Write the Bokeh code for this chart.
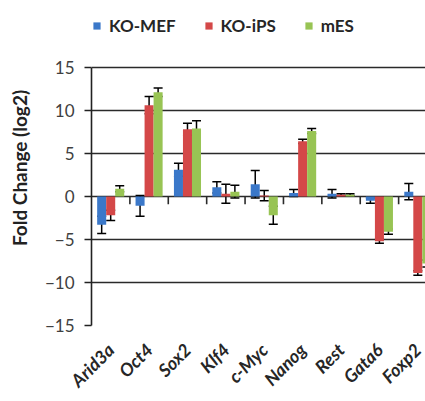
import math
from bokeh.plotting import figure
from bokeh.models import (ColumnDataSource, Range1d, FixedTicker, Legend, LegendItem,
                          Whisker, TeeHead)
from bokeh.embed import file_html
from bokeh.resources import INLINE

# Relative expression, log2 fold change, with error bars
genes = ["Arid3a", "Oct4", "Sox2", "Klf4", "c-Myc", "Nanog", "Rest", "Gata6", "Foxp2"]
series = ["KO-MEF", "KO-iPS", "mES"]
ko_mef = [-3.3, -1.1, 3.1, 1.05, 1.4, 0.4, 0.3, -0.5, 0.55]
ko_mef_err = [1.0, 1.2, 0.75, 0.65, 1.6, 0.4, 0.5, 0.3, 0.95]
ko_ips = [-2.2, 10.6, 7.8, 0.3, 0.1, 6.4, 0.2, -5.2, -8.9]
ko_ips_err = [0.6, 1.0, 0.7, 1.1, 0.6, 0.25, 0.1, 0.25, 0.25]
mes = [0.9, 12.1, 7.9, 0.55, -2.2, 7.6, 0.2, -4.1, -7.8]
mes_err = [0.35, 0.5, 0.9, 0.75, 1.05, 0.3, 0.1, 0.3, 0.4]
y_ticks = [-15, -10, -5, 0, 5, 10, 15]

colors = ["#3B78C9", "#D44848", "#98C454"]
FONT = "Lato"
BAR_W = 0.235

# the frame reaches up past 15 so the legend can sit above the chart box
p = figure(width=425, height=401, output_backend="svg", toolbar_location=None,
           x_range=Range1d(0, 8.70), y_range=Range1d(-15, 21.6),
           min_border_left=91, min_border_right=0, min_border_top=10,
           min_border_bottom=75)
p.outline_line_color = None
p.background_fill_color = "white"
p.border_fill_color = "white"

# horizontal gridlines double as the top and bottom frame lines
p.xgrid.visible = False
p.ygrid.ticker = FixedTicker(ticks=y_ticks)
p.ygrid.grid_line_color = "#2a2a2a"
p.ygrid.grid_line_width = 1.6

# category tick marks hanging from the zero line
bounds = list(range(1, len(genes) + 1))
p.segment(x0=bounds, y0=[0] * len(bounds), x1=bounds, y1=[-0.9] * len(bounds),
          line_color="#2a2a2a", line_width=1.6)

items = []
for k, (name, vals, errs, col) in enumerate(zip(series, [ko_mef, ko_ips, mes],
                                                [ko_mef_err, ko_ips_err, mes_err], colors)):
    xs = [i + 0.5 + (k - 1) * BAR_W for i in range(len(genes))]
    src = ColumnDataSource(dict(
        x=xs, top=vals,
        upper=[v + e for v, e in zip(vals, errs)],
        lower=[v - e for v, e in zip(vals, errs)]))
    r = p.vbar(x="x", top="top", bottom=0, width=BAR_W, source=src,
               fill_color=col, line_color=None)
    items.append(LegendItem(label=name, renderers=[r]))
    w = Whisker(source=src, base="x", upper="upper", lower="lower",
                line_color="black", line_width=1.5,
                upper_head=TeeHead(size=9, line_color="black", line_width=1.5),
                lower_head=TeeHead(size=9, line_color="black", line_width=1.5))
    p.add_layout(w)

legend = Legend(items=items, orientation="horizontal", location=(1, 289),
                label_text_font=FONT, label_text_font_style="bold",
                label_text_font_size="17px", label_text_color="#262626",
                glyph_width=9, glyph_height=9, label_standoff=8, spacing=28,
                padding=0, margin=0, border_line_color=None,
                background_fill_alpha=0)
p.add_layout(legend, "center")

# y axis
ya = p.yaxis[0]
ya.ticker = FixedTicker(ticks=y_ticks)
ya.bounds = (-15, 15)
ya.axis_line_color = "#222222"
ya.axis_line_width = 1.6
ya.major_tick_line_color = "#222222"
ya.major_tick_line_width = 1.6
ya.major_tick_out = 7
ya.major_tick_in = 0
ya.minor_tick_line_color = None
ya.major_label_text_font = FONT
ya.major_label_text_font_size = "17px"
ya.major_label_text_color = "#404040"
ya.major_label_standoff = 10
ya.axis_label = "Fold Change (log2)"
ya.axis_label_text_font = FONT
ya.axis_label_text_font_style = "bold"
ya.axis_label_text_font_size = "19px"
ya.axis_label_text_color = "#222222"
ya.axis_label_standoff = 11

# x axis: gene names rotated under the bottom line
xa = p.xaxis[0]
centers = [i + 0.5 for i in range(len(genes))]
xa.ticker = FixedTicker(ticks=centers)
xa.major_label_overrides = {c: g for c, g in zip(centers, genes)}
xa.major_label_orientation = math.pi / 4
xa.axis_line_color = None
xa.major_tick_line_color = None
xa.minor_tick_line_color = None
xa.major_label_text_font = FONT
xa.major_label_text_font_style = "bold italic"
xa.major_label_text_font_size = "18px"
xa.major_label_text_color = "#262626"
xa.major_label_standoff = 15

open("out.html", "w").write(file_html(p, INLINE))
